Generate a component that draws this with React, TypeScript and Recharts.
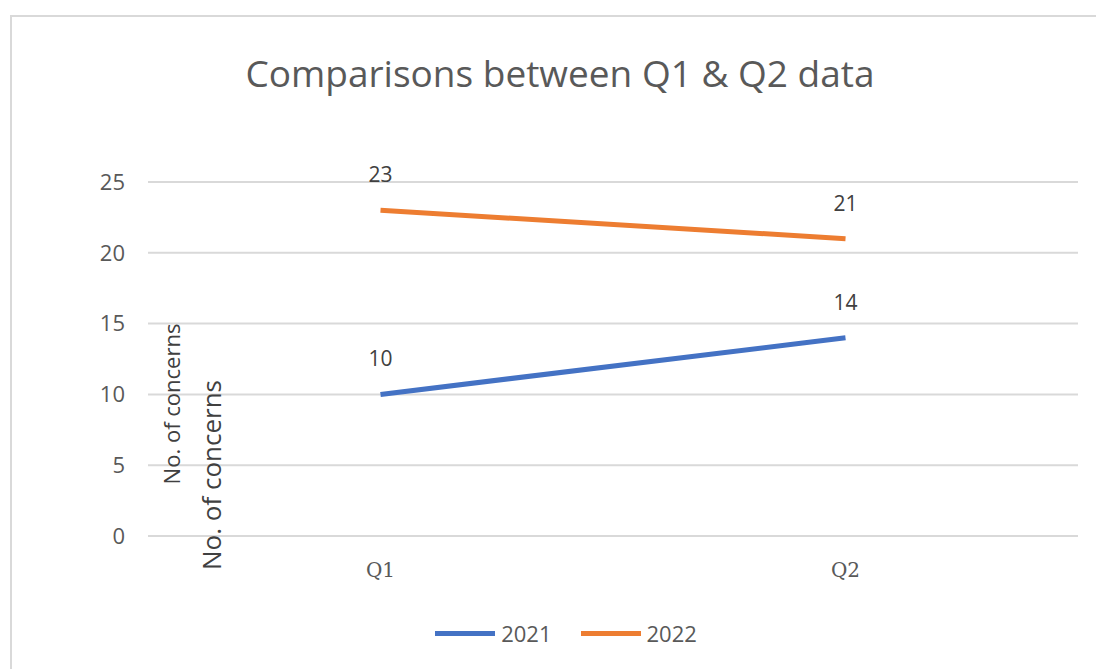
import React from 'react';
import { LineChart, Line, XAxis, YAxis, CartesianGrid, Legend, LabelList, Customized } from 'recharts';

const categories = ['Q1', 'Q2'];
const series2021 = [10, 14];
const series2022 = [23, 21];
const yTicks = [0, 5, 10, 15, 20, 25];
const title = 'Comparisons between Q1 & Q2 data';
const yLabel = 'No. of concerns';

const data = categories.map((c, i) => ({ name: c, y2021: series2021[i], y2022: series2022[i] }));

const FONT = '"Open Sans", "Noto Sans", sans-serif';
const SERIF = '"DejaVu Serif", "Liberation Serif", serif';
const TEXT = '#595959';

const renderLabel = (props: any) => {
  const { x, y, value } = props;
  return (
    <text x={x} y={y - 36} textAnchor="middle" dominantBaseline="central" fontSize={21} fill="#404040" fontFamily={FONT}>
      {value}
    </text>
  );
};

const LegendContent = (props: any) => {
  const items = [
    { label: '2021', color: '#4472C4' },
    { label: '2022', color: '#ED7D31' },
  ];
  return (
    <div style={{ display: 'flex', justifyContent: 'center', alignItems: 'center', fontFamily: FONT, fontSize: 22, color: TEXT, height: 30, paddingLeft: 36 }}>
      {items.map((it, i) => (
        <div key={it.label} style={{ display: 'flex', alignItems: 'center', marginLeft: i === 0 ? 0 : 29 }}>
          <div style={{ width: 60, height: 5, background: it.color, marginRight: 6 }} />
          <span>{it.label}</span>
        </div>
      ))}
    </div>
  );
};

const Extras = () => (
  <g>
    <text x={560} y={72} textAnchor="middle" dominantBaseline="central" fontSize={37} fill={TEXT} fontFamily={FONT}>
      {title}
    </text>
    <text transform="translate(171,404) rotate(-90)" textAnchor="middle" dominantBaseline="central" fontSize={22} fill="#404040" fontFamily={FONT}>
      {yLabel}
    </text>
    <text transform="translate(211,475) rotate(-90)" textAnchor="middle" dominantBaseline="central" fontSize={26} fill="#404040" fontFamily={FONT}>
      {yLabel}
    </text>
  </g>
);

export default function App() {
  return (
    <div style={{ position: 'absolute', left: 0, top: 0, width: 1096, height: 669, background: '#fff', overflow: 'hidden' }}>
      <div style={{ position: 'absolute', left: 10, top: 15, width: 1200, height: 800, border: '2px solid #d9d9d9' }} />
      <div style={{ position: 'absolute', left: 0, top: 0 }}>
        <LineChart width={1096} height={669} data={data} margin={{ top: 182, right: 18, bottom: 0, left: 0 }}>
          <CartesianGrid horizontal vertical={false} stroke="#d9d9d9" strokeWidth={2} />
          <XAxis
            dataKey="name"
            scale="band"
            axisLine={false}
            tickLine={false}
            tickMargin={21}
            height={103}
            tick={{ fontSize: 20, fill: TEXT, fontFamily: SERIF }}
          />
          <YAxis
            domain={[0, 25]}
            ticks={yTicks}
            axisLine={false}
            tickLine={false}
            tickMargin={17}
            width={148}
            tick={{ fontSize: 22, fill: TEXT, fontFamily: FONT }}
          />
          <Line type="linear" dataKey="y2021" name="2021" stroke="#4472C4" strokeWidth={5} dot={false} isAnimationActive={false}>
            <LabelList dataKey="y2021" content={renderLabel} />
          </Line>
          <Line type="linear" dataKey="y2022" name="2022" stroke="#ED7D31" strokeWidth={5} dot={false} isAnimationActive={false}>
            <LabelList dataKey="y2022" content={renderLabel} />
          </Line>
          <Legend content={<LegendContent />} wrapperStyle={{ top: 618, left: 0, width: 1096 }} />
          <Customized component={Extras} />
        </LineChart>
      </div>
    </div>
  );
}
